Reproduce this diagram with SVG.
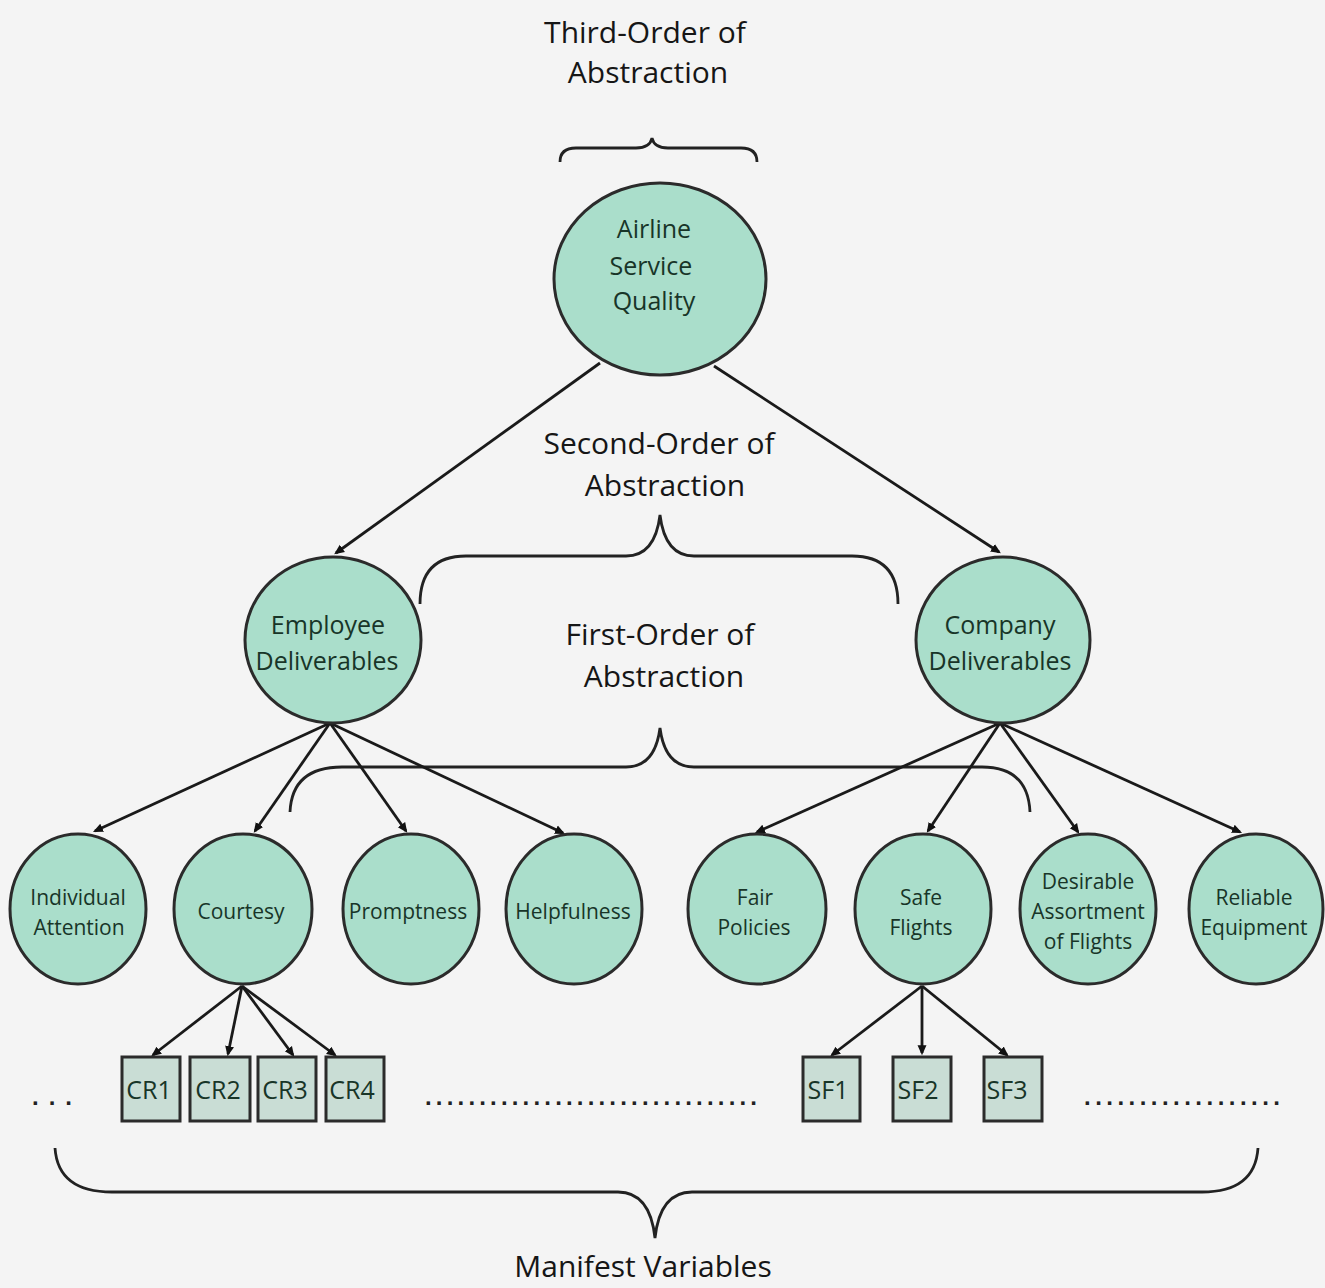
<svg xmlns="http://www.w3.org/2000/svg" width="1325" height="1288" viewBox="0 0 1325 1288">
<defs>
<style>
.bg{fill:#f4f4f4}
.node{fill:#aadecb;stroke:#2b2b2b;stroke-width:3}
.box{fill:#c9ddd5;stroke:#2b2b2b;stroke-width:3}
.edge{stroke:#1a1a1a;stroke-width:2.8;fill:none;marker-end:url(#dot)}
.brace{stroke:#222;stroke-width:2.8;fill:none}
.title{font-family:"Open Sans","Liberation Sans",sans-serif;font-size:30px;fill:#161616;text-anchor:middle}
.lbl{font-family:"Open Sans","Liberation Sans",sans-serif;font-size:25px;fill:#183528;text-anchor:middle}
.sm{font-family:"Open Sans","Liberation Sans",sans-serif;font-size:21px;fill:#183528;text-anchor:middle}
.bx{font-family:"Open Sans","Liberation Sans",sans-serif;font-size:25px;fill:#183528;text-anchor:middle}
.dots{font-family:"Liberation Sans",sans-serif;font-size:24px;font-weight:bold;fill:#222}
</style>
<marker id="dot" viewBox="0 0 10 10" refX="7" refY="5" markerWidth="4" markerHeight="4" orient="auto" markerUnits="strokeWidth">
<path d="M0,1 L9,5 L0,9 Z" fill="#111"/>
</marker>
</defs>
<rect class="bg" x="0" y="0" width="1325" height="1288"/>

<g id="labels">
<text class="title" x="645" y="43">Third-Order of</text>
<text class="title" x="648" y="83">Abstraction</text>
<text class="title" x="659" y="454">Second-Order of</text>
<text class="title" x="665" y="496">Abstraction</text>
<text class="title" x="660" y="645">First-Order of</text>
<text class="title" x="664" y="687">Abstraction</text>
<text class="title" x="643" y="1277" font-size="29">Manifest Variables</text>
<text class="dots" x="32" y="1105" textLength="40" lengthAdjust="spacing">...</text>
<text class="dots" x="425" y="1105" textLength="332" lengthAdjust="spacing">...............................</text>
<text class="dots" x="1084" y="1105" textLength="196" lengthAdjust="spacing">..................</text>
</g>

<g id="braces">
<path class="brace" d="M560,162 Q560,148 576,148 L636,148 Q650,148 652,138 Q654,148 668,148 L741,148 Q757,148 757,162"/>
<path class="brace" d="M420,604 Q420,556 466,556 L626,556 Q655,556 660,515 Q665,556 694,556 L852,556 Q898,556 898,604"/>
<path class="brace" d="M290,812 Q292,767 342,767 L626,767 Q655,767 660,728 Q665,767 694,767 L982,767 Q1028,767 1030,812"/>
<path class="brace" d="M55,1148 Q58,1192 112,1192 L618,1192 Q650,1192 655,1238 Q660,1192 692,1192 L1202,1192 Q1255,1192 1258,1148"/>
</g>

<g id="connectors">
<line class="edge" x1="600" y1="363" x2="336" y2="553"/>
<line class="edge" x1="714" y1="366" x2="999" y2="552"/>
<line class="edge" x1="330" y1="723" x2="95" y2="831"/>
<line class="edge" x1="330" y1="723" x2="255" y2="831"/>
<line class="edge" x1="330" y1="723" x2="406" y2="831"/>
<line class="edge" x1="330" y1="723" x2="563" y2="833"/>
<line class="edge" x1="1000" y1="723" x2="757" y2="832"/>
<line class="edge" x1="1000" y1="723" x2="928" y2="831"/>
<line class="edge" x1="1000" y1="723" x2="1078" y2="832"/>
<line class="edge" x1="1000" y1="723" x2="1240" y2="832"/>
<line class="edge" x1="242" y1="986" x2="153" y2="1055"/>
<line class="edge" x1="242" y1="986" x2="228" y2="1054"/>
<line class="edge" x1="242" y1="986" x2="293" y2="1055"/>
<line class="edge" x1="242" y1="986" x2="335" y2="1055"/>
<line class="edge" x1="922" y1="986" x2="832" y2="1055"/>
<line class="edge" x1="922" y1="986" x2="922" y2="1053"/>
<line class="edge" x1="922" y1="986" x2="1007" y2="1055"/>
</g>

<g id="n-airline">
<ellipse class="node" cx="660" cy="279" rx="106" ry="96"/>
<text class="lbl" x="654" y="238">Airline</text>
<text class="lbl" x="651" y="275">Service</text>
<text class="lbl" x="654" y="310">Quality</text>
</g>
<g id="n-employee">
<ellipse class="node" cx="333" cy="640" rx="88" ry="83"/>
<text class="lbl" x="328" y="634">Employee</text>
<text class="lbl" x="327" y="670">Deliverables</text>
</g>
<g id="n-company">
<ellipse class="node" cx="1003" cy="640" rx="87" ry="83"/>
<text class="lbl" x="1000" y="634">Company</text>
<text class="lbl" x="1000" y="670">Deliverables</text>
</g>

<g id="n-individual">
<ellipse class="node" cx="78" cy="909" rx="68" ry="75"/>
<text class="sm" x="78" y="905">Individual</text>
<text class="sm" x="79" y="935">Attention</text>
</g>
<g id="n-courtesy">
<ellipse class="node" cx="243" cy="909" rx="69" ry="75"/>
<text class="sm" x="241" y="919">Courtesy</text>
</g>
<g id="n-promptness">
<ellipse class="node" cx="411" cy="909" rx="68" ry="75"/>
<text class="sm" x="408" y="919">Promptness</text>
</g>
<g id="n-helpfulness">
<ellipse class="node" cx="574" cy="909" rx="68" ry="75"/>
<text class="sm" x="573" y="919">Helpfulness</text>
</g>
<g id="n-fair">
<ellipse class="node" cx="757" cy="909" rx="69" ry="75"/>
<text class="sm" x="755" y="905">Fair</text>
<text class="sm" x="754" y="935">Policies</text>
</g>
<g id="n-safe">
<ellipse class="node" cx="923" cy="909" rx="68" ry="75"/>
<text class="sm" x="921" y="905">Safe</text>
<text class="sm" x="921" y="935">Flights</text>
</g>
<g id="n-desirable">
<ellipse class="node" cx="1088" cy="909" rx="68" ry="75"/>
<text class="sm" x="1088" y="889">Desirable</text>
<text class="sm" x="1088" y="919">Assortment</text>
<text class="sm" x="1088" y="949">of Flights</text>
</g>
<g id="n-reliable">
<ellipse class="node" cx="1256" cy="909" rx="67" ry="75"/>
<text class="sm" x="1254" y="905">Reliable</text>
<text class="sm" x="1254" y="935">Equipment</text>
</g>

<g id="n-cr1"><rect class="box" x="122" y="1057" width="58" height="64"/><text class="bx" x="149" y="1099">CR1</text></g>
<g id="n-cr2"><rect class="box" x="190" y="1057" width="60" height="64"/><text class="bx" x="218" y="1099">CR2</text></g>
<g id="n-cr3"><rect class="box" x="258" y="1057" width="58" height="64"/><text class="bx" x="285" y="1099">CR3</text></g>
<g id="n-cr4"><rect class="box" x="326" y="1057" width="58" height="64"/><text class="bx" x="352" y="1099">CR4</text></g>
<g id="n-sf1"><rect class="box" x="803" y="1057" width="57" height="64"/><text class="bx" x="828" y="1099">SF1</text></g>
<g id="n-sf2"><rect class="box" x="893" y="1057" width="58" height="64"/><text class="bx" x="918" y="1099">SF2</text></g>
<g id="n-sf3"><rect class="box" x="984" y="1057" width="58" height="64"/><text class="bx" x="1007" y="1099">SF3</text></g>
</svg>
